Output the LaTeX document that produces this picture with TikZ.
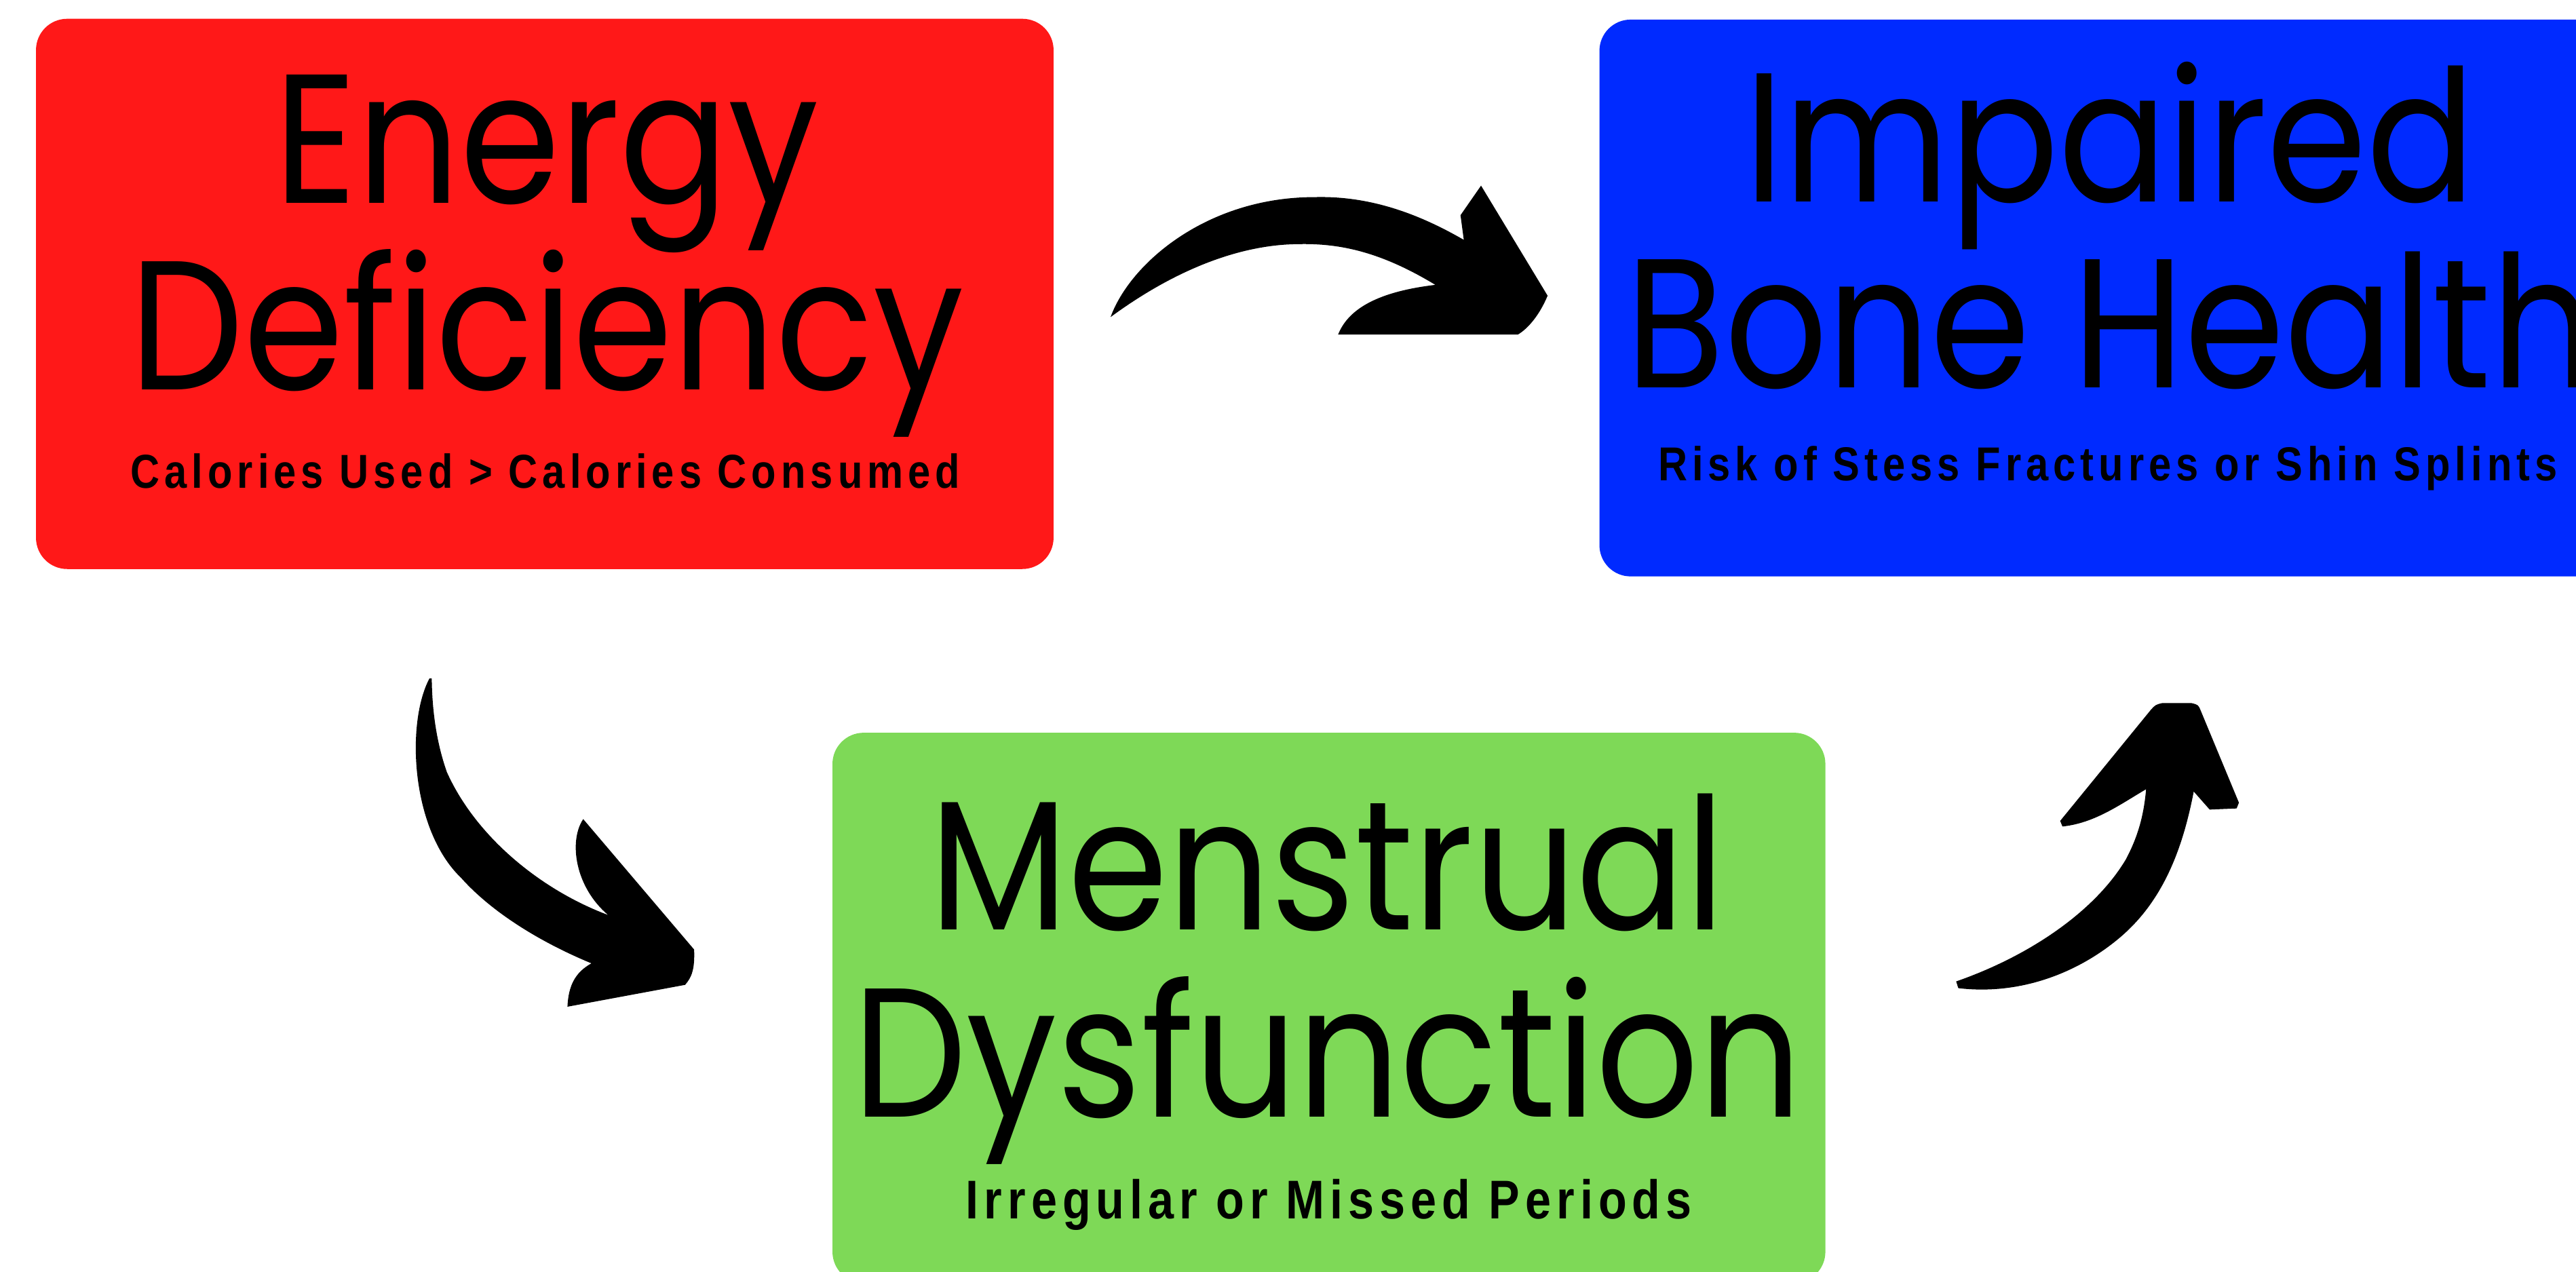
\documentclass[tikz,border=0pt]{standalone}
\usepackage{fontspec}
\setmainfont{Poppins}[FakeStretch=0.875]
\newfontfamily\subfont{Liberation Sans}[FakeStretch=0.85,LetterSpace=10]
\definecolor{cardred}{RGB}{255,24,24}
\definecolor{cardblue}{RGB}{0,42,255}
\definecolor{cardgreen}{RGB}{126,217,87}
\begin{document}
\begin{tikzpicture}[x=0.02cm, y=-0.02cm,
  card/.style={rounded corners=0.38cm, inner sep=0pt, minimum height=6.7cm},
  title/.style={anchor=base, inner sep=0pt, font=\fontsize{63.7pt}{65pt}\selectfont},
  sub/.style={anchor=base, inner sep=0pt, font=\subfont\bfseries\fontsize{16.5pt}{18pt}\selectfont},
  brush/.style={fill=black}]
  \useasboundingbox (0,0) rectangle (1568,774);
  \clip (0,0) rectangle (1568,774);
  % cards
  \node[card, fill=cardred, minimum width=12.39cm] (energy) at (331.6,178.9) {};
  \node[card, fill=cardblue, minimum width=12.4cm, minimum height=6.78cm] (bone) at (1283.5,181.4) {};
  \node[card, fill=cardgreen, minimum width=12.09cm] (menstrual) at (808.9,613.5) {};
  % titles
  \node[title] (energy-l1) at (332.9,123.5) {Energy};
  \node[title] (energy-l2) at (332.9,237.2) {Deficiency};
  \node[sub] (energy-sub) at (332,297) {Calories Used > Calories Consumed};
  \node[title] (bone-l1) at (1284.4,123) {Impaired};
  \node[title] (bone-l2) at (1284.4,235.8) {Bone Health};
  \node[sub] (bone-sub) at (1283,292.6) {Risk of Stess Fractures or Shin Splints};
  \node[title] (menstrual-l1) at (808,566.1) {Menstrual};
  \node[title] (menstrual-l2) at (808,679.9) {Dysfunction};
  \node[sub, font=\subfont\bfseries\fontsize{18.9pt}{20pt}\selectfont] (menstrual-sub) at (808.9,741.8) {Irregular or Missed Periods};
  % energy -> bone
  \fill[brush] (676,193) .. controls (688,160) and (735,120) .. (800,120) .. controls (835,119) and (865,131) .. (891,146)
    -- (889,131) -- (901.5,113) -- (942,180) .. controls (937,192) and (930,200) .. (924,203.6) -- (814.5,203.6)
    .. controls (820,190) and (835,178) .. (873.7,173.4)
    .. controls (840,153) and (815,148) .. (790,148.6) .. controls (750,149) and (710,168) .. cycle;
  % energy -> menstrual
  \fill[brush] (261.4,413) .. controls (247,440) and (250,505) .. (280.7,534.4) .. controls (300,556) and (330,574) .. (360,586.4)
    .. controls (350,592) and (346,600) .. (345.4,612.8) -- (417,599.5) .. controls (421,595) and (423,590) .. (422.5,578)
    -- (355,498.6) .. controls (346,512) and (350,540) .. (370.2,557)
    .. controls (330,542) and (290,510) .. (272,470) .. controls (265,450) and (263,430) .. (262.8,413) -- cycle;
  % menstrual -> bone
  \fill[brush] (1190.7,597.4) .. controls (1235,582) and (1275,555) .. (1294,523.1) .. controls (1302,508) and (1305,495) .. (1306.3,480.4)
    .. controls (1290,490) and (1275,501) .. (1255.4,503.1) -- (1254,499.7) -- (1309.1,432.2) .. controls (1312,429) .. (1316,428)
    -- (1334,428) .. controls (1338,429) .. (1339.4,432.2) -- (1362.8,488.6) -- (1361.4,492.1) -- (1345,492.8) -- (1335.3,481.8)
    .. controls (1328,520) and (1315,550) .. (1290,571) .. controls (1265,592) and (1230,606) .. (1192,601.5) -- cycle;
\end{tikzpicture}
\end{document}
